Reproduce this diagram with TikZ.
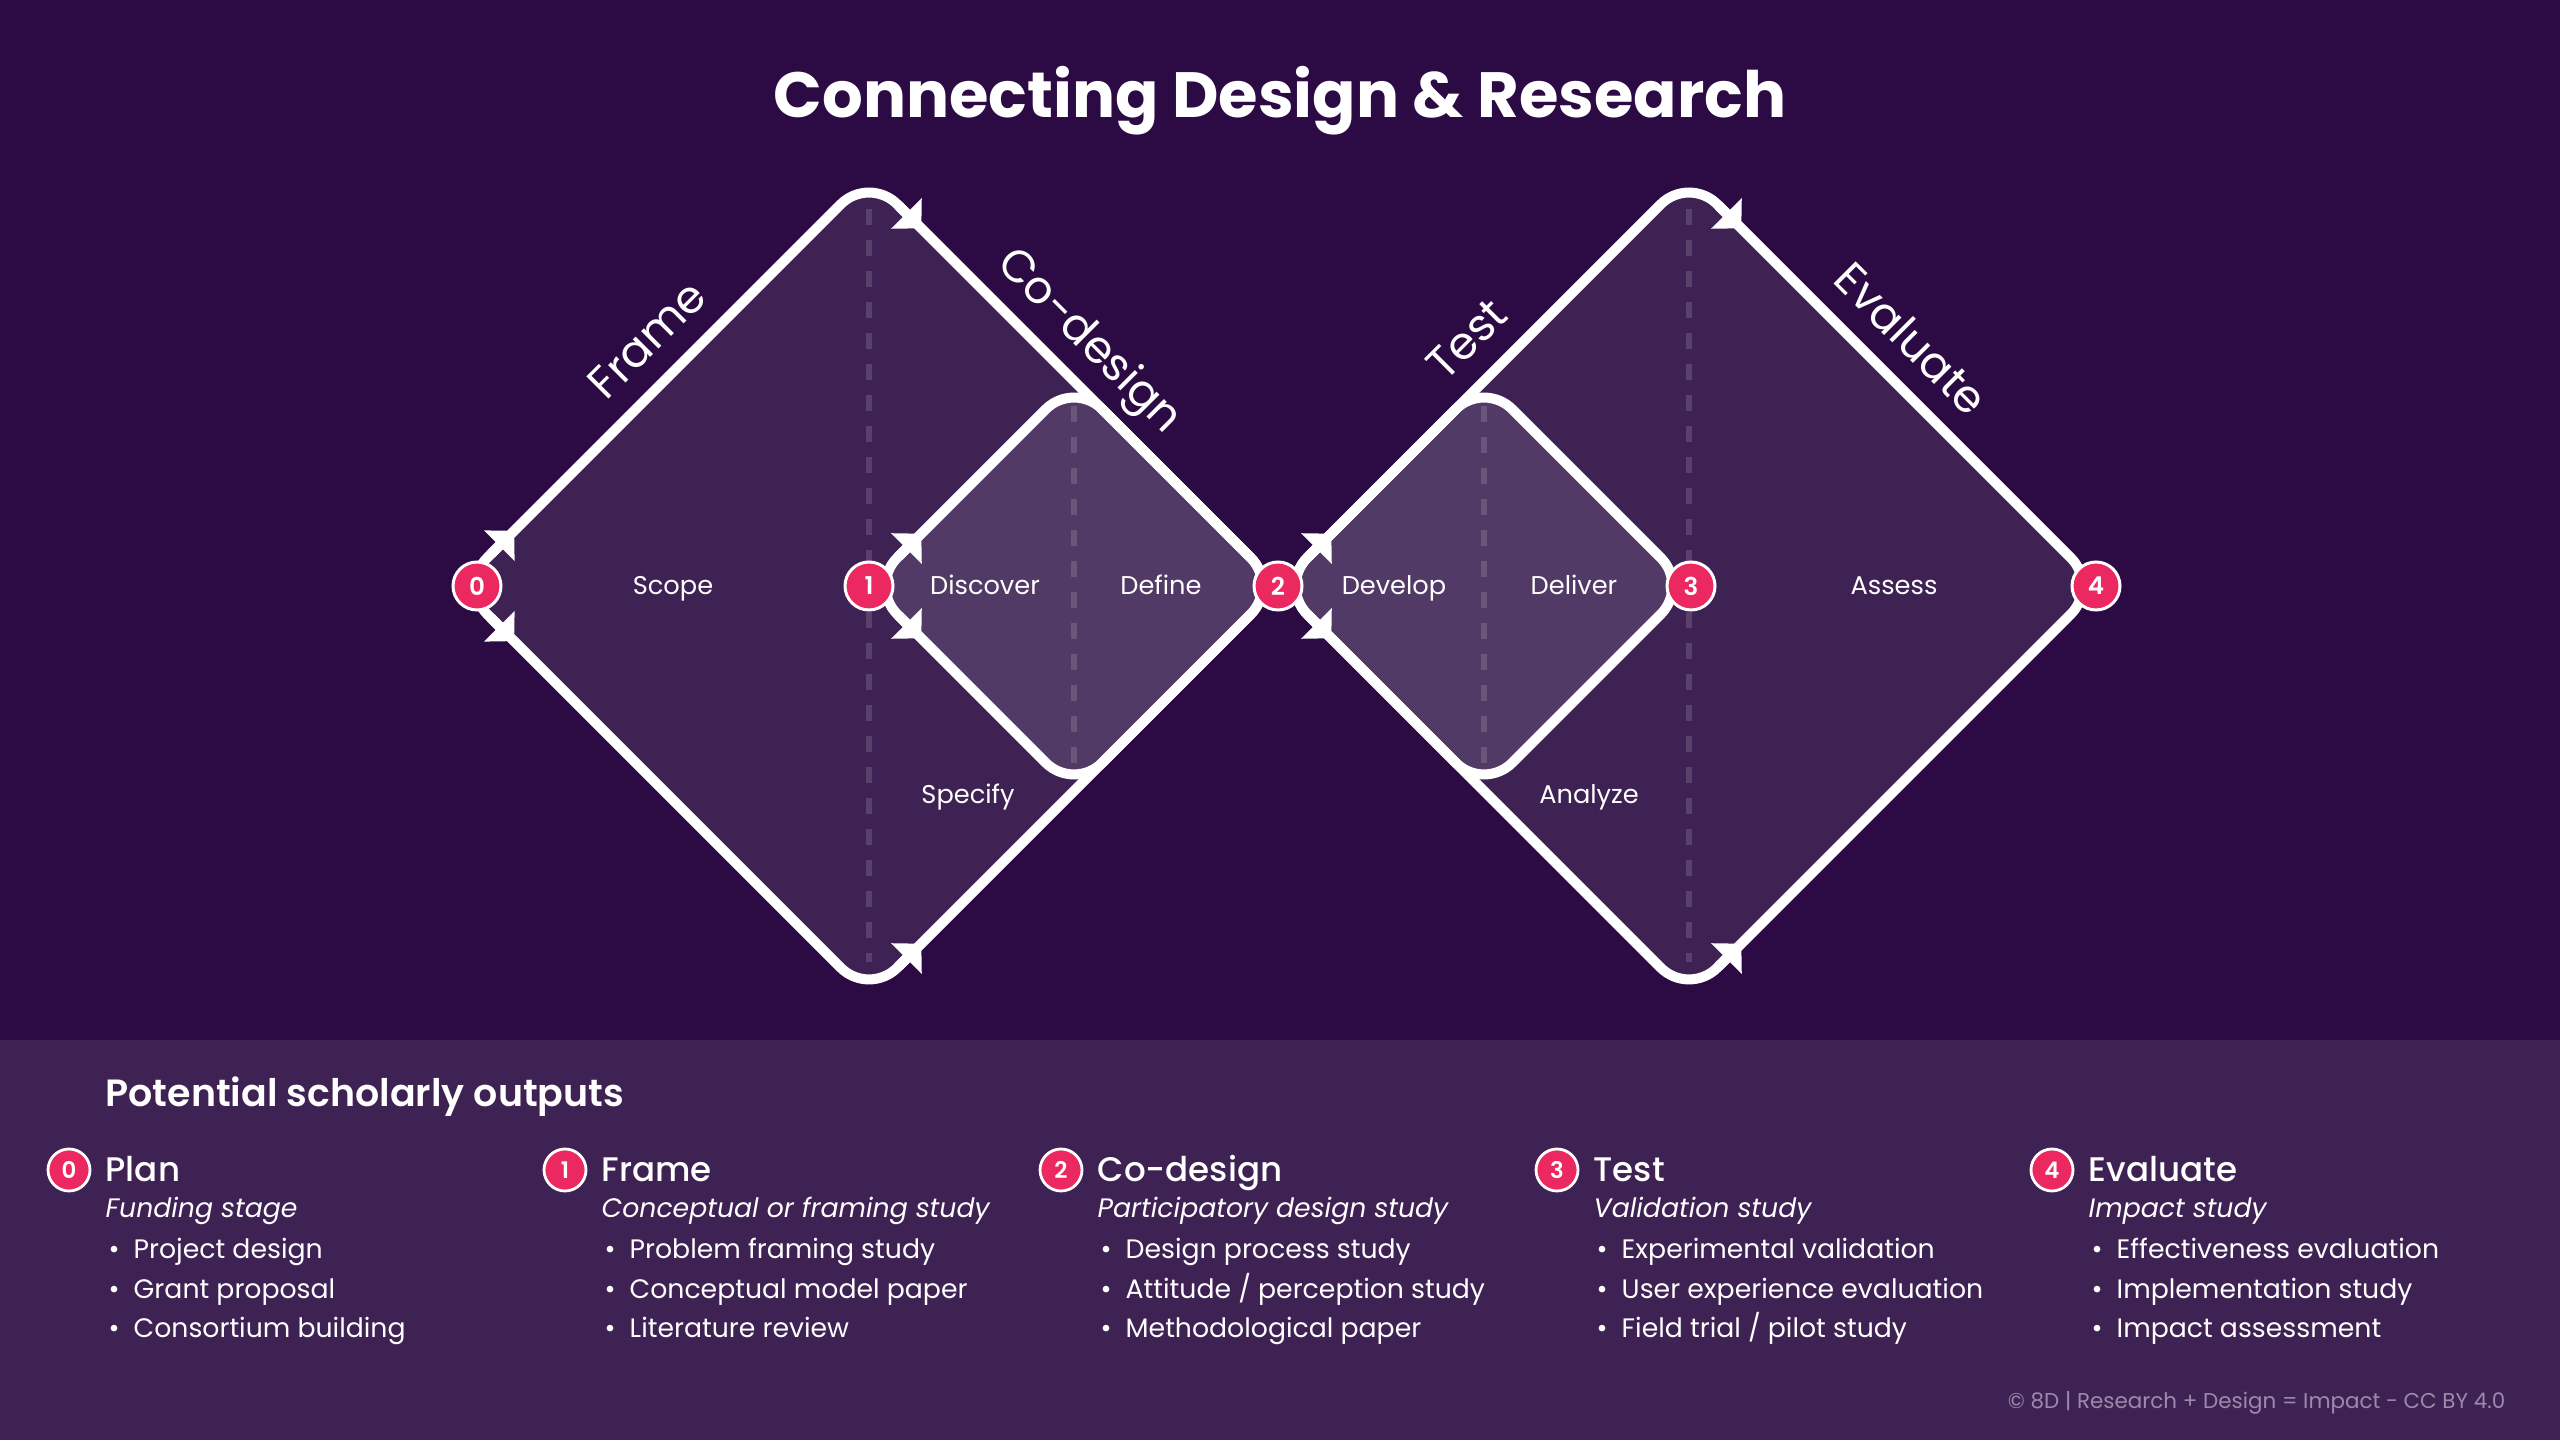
\documentclass[tikz,border=0pt]{standalone}
\usepackage{fontspec}
\setmainfont{Poppins}
\newfontfamily\popsemi{Poppins SemiBold}
\newfontfamily\popmed{Poppins Medium}
\usetikzlibrary{arrows.meta,calc}
\definecolor{bgpurple}{HTML}{2C0B45}
\definecolor{midpurple}{HTML}{3F2254}
\definecolor{lightpurple}{HTML}{523A66}
\definecolor{stepred}{HTML}{EC2860}
\definecolor{footgray}{HTML}{9B8AAB}
\newcommand{\outbullet}{\textbullet\hspace{0.14cm}}

\begin{document}
\begin{tikzpicture}[
  outline/.style={draw=white, line width=0.1cm, rounded corners=0.4cm},
  flowarrow/.style={white, line width=0.1cm, -{Triangle[length=0.21cm,width=0.42cm]}},
  guide/.style={white, opacity=0.14, line width=0.06cm, dash pattern=on 0.16cm off 0.15cm},
  stepnum/.style={circle, fill=stepred, draw=white, line width=0.03cm, minimum size=0.48cm, inner sep=0pt, text=white, font=\fontsize{7}{8}\popsemi},
  outnum/.style={stepnum, minimum size=0.42cm, line width=0.028cm, font=\fontsize{6.5}{7}\popsemi},
  phaselbl/.style={anchor=base, text=white, font=\fontsize{7.3}{8}\selectfont},
  stagelbl/.style={sloped, anchor=base, yshift=0.26cm, text=white, font=\fontsize{12.8}{14}\selectfont},
  outhead/.style={anchor=base west, inner sep=0pt, text=white, font=\fontsize{9.7}{11}\popmed},
  outsub/.style={anchor=base west, inner sep=0pt, text=white, font=\fontsize{7.6}{9}\selectfont\itshape},
  outitem/.style={anchor=base west, inner sep=0pt, text=white, font=\fontsize{7.6}{9}\selectfont}
]
% Background and panel
\fill [bgpurple] (0,0) rectangle (25.6,14.4);
\fill [midpurple] (0,0) rectangle (25.6,4.0);

% Corners of the diamonds
\coordinate (aL) at (4.59,8.54);
\coordinate (aT) at (8.69,12.64);
\coordinate (aR) at (12.79,8.54);
\coordinate (aB) at (8.69,4.44);
\coordinate (bL) at (8.69,8.54);
\coordinate (bT) at (10.74,10.59);
\coordinate (bB) at (10.74,6.49);
\coordinate (dT) at (14.84,10.59);
\coordinate (dR) at (16.89,8.54);
\coordinate (dB) at (14.84,6.49);
\coordinate (cT) at (16.89,12.64);
\coordinate (cR) at (20.99,8.54);
\coordinate (cB) at (16.89,4.44);

% Fills
\fill [midpurple, rounded corners=0.4cm] (aL) -- (aT) -- (aR) -- (aB) -- cycle;
\fill [midpurple, rounded corners=0.4cm] (aR) -- (cT) -- (cR) -- (cB) -- cycle;
\fill [lightpurple, rounded corners=0.4cm] (bL) -- (bT) -- (aR) -- (bB) -- cycle;
\fill [lightpurple, rounded corners=0.4cm] (aR) -- (dT) -- (dR) -- (dB) -- cycle;

% dashed middle lines
\draw [guide] ($(aT)+(0,-0.33)$) -- ($(aB)+(0,0.34)$);
\draw [guide] ($(bT)+(0,-0.25)$) -- ($(bB)+(0,0.25)$);
\draw [guide] ($(dT)+(0,-0.25)$) -- ($(dB)+(0,0.25)$);
\draw [guide] ($(cT)+(0,-0.33)$) -- ($(cB)+(0,0.34)$);

% Outlines
\draw [outline] (aL) -- (aT) -- (aR) -- (aB) -- cycle;
\draw [outline] (aR) -- (cT) -- (cR) -- (cB) -- cycle;
\draw [outline] (bL) -- (bT) -- (aR) -- (bB) -- cycle;
\draw [outline] (aR) -- (dT) -- (dR) -- (dB) -- cycle;

% Arrow heads
\draw [flowarrow] ($(aL)!0.45cm!(aT)$) -- ($(aL)!0.78cm!(aT)$);
\draw [flowarrow] ($(aL)!0.45cm!(aB)$) -- ($(aL)!0.78cm!(aB)$);
\draw [flowarrow] ($(aT)!0.42cm!(aR)$) -- ($(aT)!0.74cm!(aR)$);
\draw [flowarrow] ($(aB)!0.42cm!(aR)$) -- ($(aB)!0.74cm!(aR)$);
\draw [flowarrow] ($(bL)!0.42cm!(bT)$) -- ($(bL)!0.74cm!(bT)$);
\draw [flowarrow] ($(bL)!0.42cm!(bB)$) -- ($(bL)!0.74cm!(bB)$);
\draw [flowarrow] ($(aR)!0.42cm!(dT)$) -- ($(aR)!0.74cm!(dT)$);
\draw [flowarrow] ($(aR)!0.42cm!(dB)$) -- ($(aR)!0.74cm!(dB)$);
\draw [flowarrow] ($(cT)!0.42cm!(cR)$) -- ($(cT)!0.74cm!(cR)$);
\draw [flowarrow] ($(cB)!0.42cm!(cR)$) -- ($(cB)!0.74cm!(cR)$);

% Step numbers
\node [stepnum] (n0) at (4.77,8.54) {0};
\node [stepnum] (n1) at (8.69,8.54) {1};
\node [stepnum] (n2) at (12.78,8.54) {2};
\node [stepnum] (n3) at (16.91,8.54) {3};
\node [stepnum] (n4) at (20.96,8.54) {4};

% Stage names
\path (aL) -- (aT) node [stagelbl, pos=0.53] (frame) {Frame};
\path (aT) -- (aR) node [stagelbl, pos=0.47] (codesign) {Co-design};
\path (aR) -- (cT) node [stagelbl, pos=0.53] (test) {Test};
\path (cT) -- (cR) node [stagelbl, pos=0.47] (evaluate) {Evaluate};

% Phases
\node [phaselbl] (scope) at (6.73,8.45) {Scope};
\node [phaselbl] (discover) at (9.85,8.45) {Discover};
\node [phaselbl] (define) at (11.61,8.45) {Define};
\node [phaselbl] (specify) at (9.68,6.36) {Specify};
\node [phaselbl] (develop) at (13.94,8.45) {Develop};
\node [phaselbl] (deliver) at (15.74,8.45) {Deliver};
\node [phaselbl] (assess) at (18.94,8.45) {Assess};
\node [phaselbl] (analyze) at (15.89,6.36) {Analyze};

% Title
\node [anchor=base, inner sep=0pt, text=white, font=\fontsize{18.2}{20}\selectfont\bfseries] (title) at (12.8,13.22) {Connecting Design \& Research};

% Outputs panel
\node [anchor=base west, inner sep=0pt, text=white, font=\fontsize{10.8}{12}\popsemi] (outputs) at (1.05,3.33) {Potential scholarly outputs};

\node [outnum] (o0) at (0.69,2.70) {0};
\node [outhead] (plan) at (1.05,2.59) {Plan};
\node [outsub] (plansub) at (1.05,2.22) {Funding stage};
\node [outitem] (plan1) at (1.08,1.82) {\outbullet Project design};
\node [outitem] (plan2) at (1.08,1.42) {\outbullet Grant proposal};
\node [outitem] (plan3) at (1.08,1.03) {\outbullet Consortium building};

\node [outnum] (o1) at (5.65,2.70) {1};
\node [outhead] (framehead) at (6.01,2.59) {Frame};
\node [outsub] (framesub) at (6.01,2.22) {Conceptual or framing study};
\node [outitem] (frame1) at (6.04,1.82) {\outbullet Problem framing study};
\node [outitem] (frame2) at (6.04,1.42) {\outbullet Conceptual model paper};
\node [outitem] (frame3) at (6.04,1.03) {\outbullet Literature review};

\node [outnum] (o2) at (10.61,2.70) {2};
\node [outhead] (codesignhead) at (10.97,2.59) {Co-design};
\node [outsub] (codesignsub) at (10.97,2.22) {Participatory design study};
\node [outitem] (codesign1) at (11.00,1.82) {\outbullet Design process study};
\node [outitem] (codesign2) at (11.00,1.42) {\outbullet Attitude / perception study};
\node [outitem] (codesign3) at (11.00,1.03) {\outbullet Methodological paper};

\node [outnum] (o3) at (15.57,2.70) {3};
\node [outhead] (testhead) at (15.93,2.59) {Test};
\node [outsub] (testsub) at (15.93,2.22) {Validation study};
\node [outitem] (test1) at (15.96,1.82) {\outbullet Experimental validation};
\node [outitem] (test2) at (15.96,1.42) {\outbullet User experience evaluation};
\node [outitem] (test3) at (15.96,1.03) {\outbullet Field trial / pilot study};

\node [outnum] (o4) at (20.52,2.70) {4};
\node [outhead] (evaluatehead) at (20.88,2.59) {Evaluate};
\node [outsub] (evaluatesub) at (20.88,2.22) {Impact study};
\node [outitem] (evaluate1) at (20.91,1.82) {\outbullet Effectiveness evaluation};
\node [outitem] (evaluate2) at (20.91,1.42) {\outbullet Implementation study};
\node [outitem] (evaluate3) at (20.91,1.03) {\outbullet Impact assessment};

% Footer
\node [anchor=base east, inner sep=0pt, text=footgray, font=\fontsize{6.1}{7}\selectfont] (credit) at (25.06,0.32) {© 8D | Research + Design = Impact - CC BY 4.0};

\end{tikzpicture}
\end{document}
